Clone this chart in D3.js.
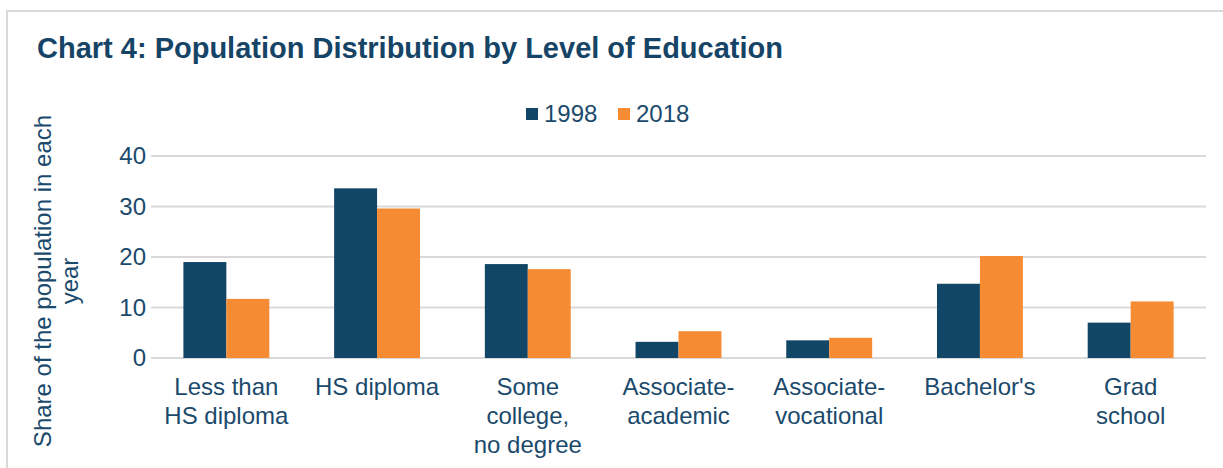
<!DOCTYPE html>
<html>
<head>
<meta charset="utf-8">
<script src="https://cdn.jsdelivr.net/npm/d3@7"></script>
<style>
  body { margin: 0; background: #fff; }
  text { font-family: Arial, "Liberation Sans", sans-serif; }
</style>
</head>
<body>
<script>
"use strict";

var width = 1223;
var height = 468;

// data
var categories = [["Less than", "HS diploma"], ["HS diploma"], ["Some", "college,", "no degree"],
  ["Associate-", "academic"], ["Associate-", "vocational"], ["Bachelor's"], ["Grad", "school"]];
var seriesNames = ["1998", "2018"];
var values1998 = [19.0, 33.6, 18.6, 3.2, 3.5, 14.7, 7.0];
var values2018 = [11.7, 29.6, 17.6, 5.3, 4.0, 20.2, 11.2];
var yTicks = [0, 10, 20, 30, 40];

var colors = ["#124667", "#f58b33"];
var textColor = "#1b4a6c";

var svg = d3.select("body").append("svg").attr("width", width).attr("height", height);

// frame
svg.append("path").attr("d", "M7,470 V11 H1230").attr("fill", "none")
  .attr("stroke", "#d9d9d9").attr("stroke-width", 2);

svg.append("text").attr("x", 37).attr("y", 58).text("Chart 4: Population Distribution by Level of Education")
  .attr("font-size", 29).attr("font-weight", "bold").attr("fill", "#164466");

// Define Scales
var xScale = d3.scaleBand().domain(d3.range(categories.length)).range([151, 1206])
  .paddingInner(0.43).paddingOuter(0.215);
var xSub = d3.scaleBand().domain(seriesNames).range([0, xScale.bandwidth()]);
var yScale = d3.scaleLinear().domain([0, 40]).range([358, 156]);

// gridlines
svg.append("g").selectAll("line").data(yTicks).enter().append("line")
  .attr("x1", 151).attr("x2", 1206)
  .attr("y1", function (d) { return yScale(d); }).attr("y2", function (d) { return yScale(d); })
  .attr("stroke", "#d9d9d9").attr("stroke-width", 2);

// y axis
var yAxis = d3.axisLeft(yScale).tickValues(yTicks).tickSize(0).tickPadding(0);
var gy = svg.append("g").attr("transform", "translate(146,0)").call(yAxis);
gy.select(".domain").remove();
gy.selectAll("text").attr("font-size", 24).attr("fill", textColor).attr("font-family", null);

// y title
var yTitle = svg.append("text").attr("transform", "translate(56,281) rotate(-90)")
  .attr("text-anchor", "middle").attr("font-size", 24).attr("fill", textColor);
yTitle.append("tspan").attr("x", 0).attr("dy", -5).text("Share of the population in each");
yTitle.append("tspan").attr("x", 0).attr("dy", 27).text("year");

// Draw Data
var series = [values1998, values2018];
series.forEach(function (vals, s) {
  svg.append("g").selectAll("rect").data(vals).enter().append("rect")
    .attr("x", function (d, i) { return xScale(i) + xSub(seriesNames[s]); })
    .attr("y", function (d) { return yScale(d); })
    .attr("width", xSub.bandwidth())
    .attr("height", function (d) { return yScale(0) - yScale(d); })
    .attr("fill", colors[s]);
});

// category labels
var labels = svg.append("g").selectAll("text").data(categories).enter().append("text")
  .attr("text-anchor", "middle").attr("font-size", 24).attr("fill", textColor)
  .attr("transform", function (d, i) { return "translate(" + (xScale(i) + xScale.bandwidth() / 2) + ",395)"; });
labels.selectAll("tspan").data(function (d) { return d; }).enter().append("tspan")
  .attr("x", 0).attr("y", function (d, i) { return i * 29; }).text(function (d) { return d; });

// legend
var legend = svg.append("g").selectAll("g").data(seriesNames).enter().append("g")
  .attr("transform", function (d, i) { return "translate(" + (526 + i * 92) + ",108)"; });
legend.append("rect").attr("width", 12).attr("height", 12).attr("fill", function (d, i) { return colors[i]; });
legend.append("text").attr("x", 18).attr("y", 14).attr("font-size", 24).attr("fill", textColor)
  .text(function (d) { return d; });
</script>
</body>
</html>
